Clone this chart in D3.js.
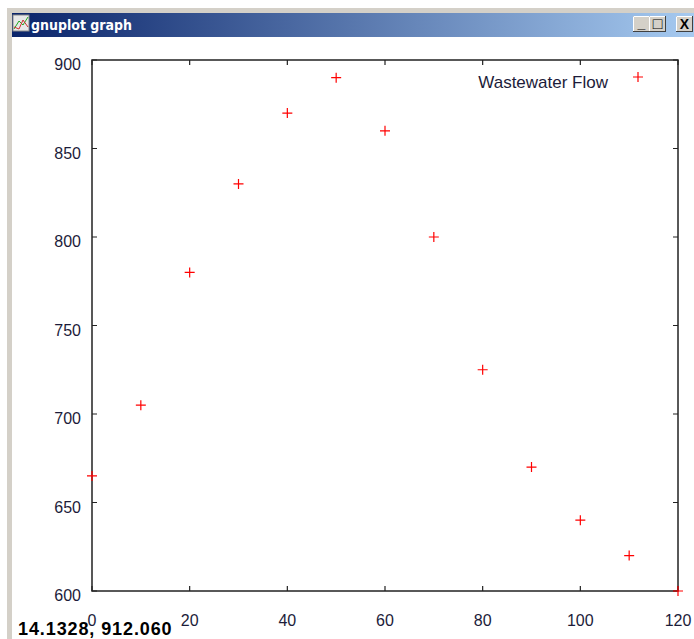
<!DOCTYPE html>
<html><head><meta charset="utf-8">
<script src="https://cdn.jsdelivr.net/npm/d3@7"></script>
<style>html,body{margin:0;padding:0;background:#fff;overflow:hidden}</style>
</head><body>
<script>
const xValues = [0,10,20,30,40,50,60,70,80,90,100,110,120];
const flowValues = [665,705,780,830,870,890,860,800,725,670,640,620,600];
const xTicks = [0,20,40,60,80,100,120];
const yTicks = [600,650,700,750,800,850,900];
const seriesName = "Wastewater Flow";
const windowTitle = "gnuplot graph";
const statusText = "14.1328, 912.060";

const W = 694, H = 639;
const svg = d3.select("body").append("svg").attr("width", W).attr("height", H);

// window frame
svg.append("rect").attr("x",0).attr("y",0).attr("width",W).attr("height",H).attr("fill","#fff");
svg.append("rect").attr("x",7).attr("y",8).attr("width",W-7).attr("height",H-8).attr("fill","#d4d0c8");
svg.append("rect").attr("x",12).attr("y",37).attr("width",W-12).attr("height",H-37).attr("fill","#fff");
const grad = svg.append("defs").append("linearGradient").attr("id","tb");
grad.append("stop").attr("offset","0").attr("stop-color","#0a246a");
grad.append("stop").attr("offset","1").attr("stop-color","#a6caf0");
svg.append("rect").attr("x",12).attr("y",13).attr("width",W-12).attr("height",24).attr("fill","url(#tb)");
// icon
const ic = svg.append("g").attr("transform","translate(13,15)");
ic.append("rect").attr("width",16).attr("height",16).attr("fill","#e8e8e8").attr("stroke","#888");
ic.append("path").attr("d","M1,14 L6,6 L10,10 L15,2").attr("stroke","#2a2").attr("fill","none");
ic.append("path").attr("d","M1,12 L6,14 L10,5 L15,12").attr("stroke","#c33").attr("fill","none");
svg.append("text").attr("x",31).attr("y",30).attr("fill","#fff").attr("font-family","DejaVu Sans Condensed, DejaVu Sans").attr("font-weight","bold").attr("font-size",14).text(windowTitle);
// buttons
[[633,"_"],[649,"□"],[676,"X"]].forEach(([bx,t])=>{
  const g = svg.append("g").attr("transform",`translate(${bx},16)`);
  g.append("rect").attr("x",0.5).attr("y",0.5).attr("width",16).attr("height",15).attr("fill","#d4d0c8").attr("stroke","#404040").attr("stroke-width",1);
  g.append("path").attr("d","M0.5,15 V0.5 H16").attr("stroke","#fff").attr("fill","none");
  g.append("text").attr("x",8.5).attr("y",t==="_"?12:13).attr("text-anchor","middle").attr("font-family","Liberation Sans, Arial").attr("font-weight","bold").attr("font-size",t==="□"?16:14).attr("fill","#000").text(t);
});

// plot
const L = 92, R = 678, T = 60, B = 591;
const x = d3.scaleLinear().domain([0,120]).range([L,R]);
const y = d3.scaleLinear().domain([600,900]).range([B,T]);
const tickColor = "#222";
const labColor = "#1c1c3a";
const font = "Liberation Sans, Arial, sans-serif";

const g = svg.append("g");
g.append("rect").attr("x",L).attr("y",T).attr("width",R-L).attr("height",B-T).attr("fill","none").attr("stroke","#222").attr("stroke-width",1.5);

const tl = 5;
g.selectAll(".xt").data(xTicks).join("path").attr("d",d=>`M${x(d)},${B} v${-tl} M${x(d)},${T} v${tl}`).attr("stroke",tickColor).attr("stroke-width",1.2);
g.selectAll(".yt").data(yTicks).join("path").attr("d",d=>`M${L},${y(d)} h${tl} M${R},${y(d)} h${-tl}`).attr("stroke",tickColor).attr("stroke-width",1.2);

g.selectAll(".xl").data(xTicks).join("text").attr("x",d=>x(d)).attr("y",626).attr("text-anchor","middle").attr("font-family",font).attr("font-size",16).attr("fill",labColor).text(d=>d);
g.selectAll(".yl").data(yTicks).join("text").attr("x",81).attr("y",d=>y(d)+10).attr("text-anchor","end").attr("font-family",font).attr("font-size",16).attr("fill",labColor).text(d=>d);

const plus = (cx,cy)=>`M${cx-5},${cy} h10 M${cx},${cy-5} v10`;
g.selectAll(".pt").data(xValues).join("path").attr("d",(d,i)=>plus(x(d),y(flowValues[i]))).attr("stroke","#f00").attr("stroke-width",1.2).attr("fill","none");

// legend
g.append("text").attr("x",608).attr("y",88).attr("text-anchor","end").attr("font-family",font).attr("font-size",17).attr("fill","#1c1c3a").text(seriesName);
g.append("path").attr("d",plus(638,77)).attr("stroke","#f00").attr("stroke-width",1.2);

// status
svg.append("text").attr("x",18).attr("y",635).attr("font-family",font).attr("font-weight","bold").attr("font-size",18).attr("letter-spacing",0.9).attr("fill","#000").text(statusText);
</script>
</body></html>
